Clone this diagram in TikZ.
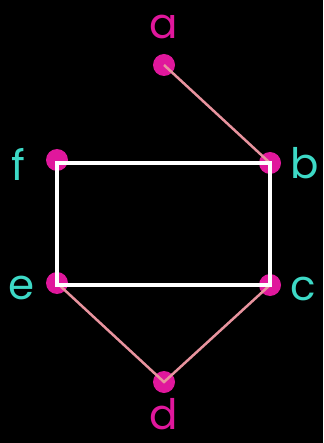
\documentclass[tikz,border=0pt]{standalone}
\usepackage{fontspec}
\setmainfont{Poppins}
\usetikzlibrary{positioning}

\definecolor{dotpink}{HTML}{E0179C}
\definecolor{edgepink}{HTML}{E8939E}
\definecolor{lblcyan}{HTML}{3DD9C6}

\tikzset{
  vtx/.style={circle,fill=dotpink,inner sep=0pt,minimum size=22pt},
  lbl/.style={inner sep=0pt,font=\fontsize{42}{42}\selectfont},
  edge/.style={edgepink,line width=2.5pt},
  box/.style={white,line width=4.5pt,line join=miter}
}

\begin{document}
\begin{tikzpicture}[x=1pt,y=-1pt]
  \fill[black] (0,0) rectangle (323,443);
  \useasboundingbox (0,0) rectangle (323,443);
  % vertices
  \node[vtx] (a) at (164,65) {};
  \node[vtx] (b) at (270,163) {};
  \node[vtx] (c) at (270,285) {};
  \node[vtx] (d) at (164,382) {};
  \node[vtx] (e) at (57,283) {};
  \node[vtx] (f) at (57,160) {};
  % labels
  \node[lbl,text=dotpink,above=15pt of a] (la) {a};
  \node[lbl,text=lblcyan,right=9pt of b] (lb) {b};
  \node[lbl,text=lblcyan,right=9pt of c,yshift=-4pt] (lc) {c};
  \node[lbl,text=dotpink,below=5pt of d] (ld) {d};
  \node[lbl,text=lblcyan,left=11pt of e,yshift=-5pt] (le) {e};
  \node[lbl,text=lblcyan,left=20pt of f,yshift=-4pt] (lf) {f};
  % edges
  \draw[edge] (a.center) -- (b.center);
  \draw[edge] (e.center) -- (d.center) -- (c.center);
  \draw[box] (f.center |- b.center) rectangle (c.center);
\end{tikzpicture}
\end{document}
